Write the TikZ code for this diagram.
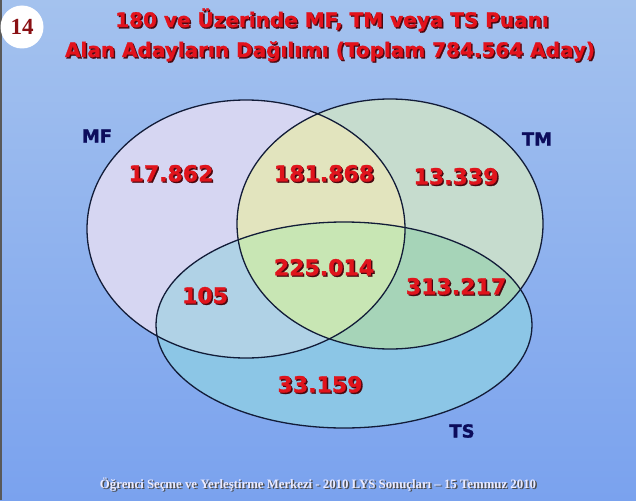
\documentclass[tikz,border=0pt]{standalone}
\usepackage{fontspec}
\newfontfamily\vennfont[BoldFeatures={FakeBold=1.3}]{DejaVu Sans}
\newfontfamily\footfont{Liberation Serif}
\usetikzlibrary{positioning}
\definecolor{skytop}{HTML}{A4C2EE}
\definecolor{skymid}{HTML}{C4DAF2}
\definecolor{skybot}{HTML}{7AA2EE}
\definecolor{titlered}{HTML}{E3121C}
\definecolor{numred}{HTML}{E0141C}
\definecolor{darkshade}{HTML}{4A0810}
\definecolor{setnavy}{HTML}{0C0C5C}
\definecolor{edgeblue}{HTML}{121C38}
\definecolor{mfcol}{HTML}{D6D6F2}
\definecolor{tmcol}{HTML}{C6DCCE}
\definecolor{tscol}{HTML}{8CC6E6}
\definecolor{mftmcol}{HTML}{E2E4BE}
\definecolor{mftscol}{HTML}{B0D2E6}
\definecolor{tmtscol}{HTML}{A6D4B8}
\definecolor{allcol}{HTML}{C8E6B4}
\definecolor{badgered}{HTML}{8A1014}

% text with a drop shadow
\newcommand{\shadowed}[2]{\rlap{\hspace{1.4pt}\raisebox{-1.4pt}{\textcolor{#1}{#2}}}#2}
% the three sets
\newcommand{\mfshape}{(246,229) ellipse [x radius=159, y radius=129]}
\newcommand{\tmshape}{(390,224) ellipse [x radius=153, y radius=125]}
\newcommand{\tsshape}{(344,325) ellipse [x radius=188, y radius=103]}

\begin{document}
\begin{tikzpicture}[x=1pt, y=-1pt,
    title/.style={anchor=base, inner sep=0pt, text=titlered,
      font=\vennfont\bfseries\fontsize{20}{24}\selectfont},
    count/.style={inner sep=0pt, text=numred,
      font=\vennfont\bfseries\fontsize{22}{26}\selectfont},
    setname/.style={inner sep=0pt, text=setnavy,
      font=\vennfont\bfseries\fontsize{18}{22}\selectfont},
    rim/.style={draw=edgeblue, line width=1.3pt}]
  \useasboundingbox (0,0) rectangle (636,500);
  \shade[top color=skytop, middle color=skymid, bottom color=skybot] (0,0) rectangle (636,500);
  \fill[black!65] (0,0) rectangle (2,500);

  % regions
  \fill[mfcol] \mfshape;
  \fill[tmcol] \tmshape;
  \fill[tscol] \tsshape;
  \begin{scope}
    \clip \mfshape;
    \fill[mftmcol] \tmshape;
    \fill[mftscol] \tsshape;
  \end{scope}
  \begin{scope}
    \clip \tmshape;
    \fill[tmtscol] \tsshape;
    \clip \mfshape;
    \fill[allcol] \tsshape;
  \end{scope}
  \draw[rim] \mfshape;
  \draw[rim] \tmshape;
  \draw[rim] \tsshape;

  % badge
  \node[circle, fill=white, minimum size=43pt, inner sep=0pt, text=badgered,
    font=\footfont\bfseries\fontsize{23}{26}\selectfont] (badge) at (22,27) {14};

  % title
  \node[title] (title1) at (332,27) {\shadowed{darkshade}{180 ve Üzerinde MF, TM veya TS Puanı}};
  \node[title] (title2) at (330,57) {\shadowed{darkshade}{Alan Adayların Dağılımı (Toplam 784.564 Aday)}};

  % set names
  \node[setname] (mf) at (97,136) {MF};
  \node[setname] (tm) at (537,139) {TM};
  \node[setname] (ts) at (462,431) {TS};

  % counts
  \node[count] (onlymf)   at (171,174) {\shadowed{darkshade}{17.862}};
  \node[count] (mftm)     at (324,174) {\shadowed{darkshade}{181.868}};
  \node[count] (onlytm)   at (456,177) {\shadowed{darkshade}{13.339}};
  \node[count] (allthree) at (324,268) {\shadowed{darkshade}{225.014}};
  \node[count] (mfts)     at (205,296) {\shadowed{darkshade}{105}};
  \node[count] (tmts)     at (456,287) {\shadowed{darkshade}{313.217}};
  \node[count] (onlyts)   at (320,385) {\shadowed{darkshade}{33.159}};

  % footer
  \node[inner sep=0pt, text=white!92!blue, font=\footfont\bfseries\fontsize{12.8}{15}\selectfont]
    (footer) at (318,485) {\shadowed{black!70}{Öğrenci Seçme ve Yerleştirme Merkezi - 2010 LYS Sonuçları – 15 Temmuz 2010}};
\end{tikzpicture}
\end{document}
